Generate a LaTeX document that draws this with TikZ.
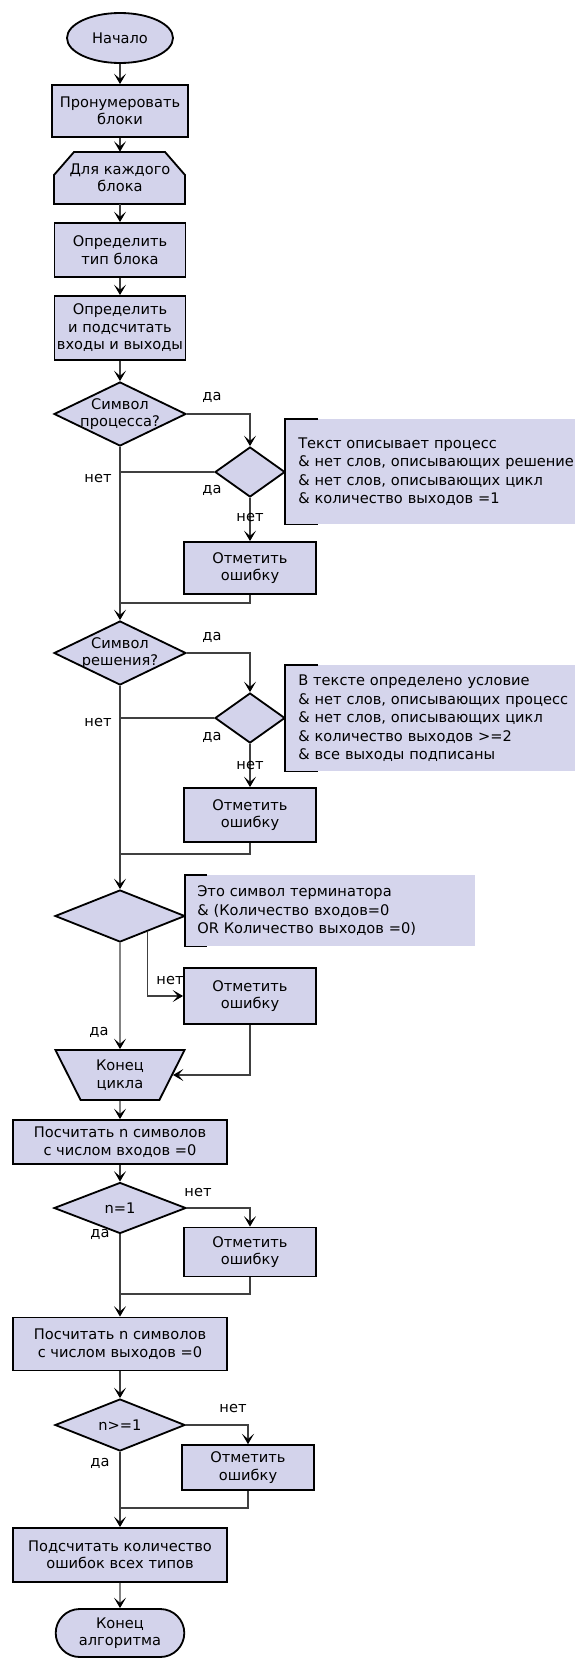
\documentclass[tikz,border=0pt]{standalone}
\usepackage{fontspec}
\setmainfont{DejaVu Sans}
\usetikzlibrary{arrows.meta,positioning,calc,shapes.geometric,shapes.misc}
\definecolor{blockfill}{RGB}{211,211,235}
\definecolor{notefill}{RGB}{213,213,236}

\begin{document}
\begin{tikzpicture}[
  font=\fontsize{10.4}{12.4}\selectfont, >={Stealth[length=2.6mm,width=3mm,inset=1.3mm,black]},
  block/.style={draw, line width=1.3pt, fill=blockfill, align=center, inner sep=0.5pt},
  proc/.style={block, minimum width=3.275cm, minimum height=1.35cm},
  wide/.style={block, minimum width=5.35cm},
  errbox/.style={block, minimum width=3.3cm, minimum height=1.3cm},
  term/.style={block, rounded rectangle, minimum width=3.25cm, minimum height=1.2cm},
  loopbegin/.style={align=center, minimum width=3.275cm, minimum height=1.3cm},
  loopend/.style={block, trapezium, shape border rotate=180, trapezium left angle=63.4, trapezium right angle=63.4,
    trapezium stretches=true, minimum width=3.25cm, minimum height=1.25cm},
  decision/.style={diamond, draw, line width=1.3pt, fill=blockfill, inner sep=0pt, minimum width=3.3cm, minimum height=1.6cm},
  check/.style={decision, minimum width=1.75cm, minimum height=1.25cm},
  note/.style={fill=notefill, align=left, anchor=north west, inner xsep=0.325cm, text width=6.9cm,
    font=\fontsize{10.4}{13.2}\selectfont},
  bracket/.style={line width=1.3pt},
  link/.style={draw=black!75, line width=0.8pt},
  flow/.style={link, ->},
  lbl/.style={inner sep=1pt},
]
\useasboundingbox (0,0) rectangle (14.375,-41.45);
% preparation
\node[block, ellipse, minimum width=2.65cm, minimum height=1.25cm] (start) at (3.0,-0.95) {Начало};
\node[block, minimum width=3.4cm, minimum height=1.3cm] (num) at (3.0,-2.775) {Пронумеровать\\блоки};
% loop start: cut corners drawn by hand, text node on top
\draw[line width=1.3pt, fill=blockfill] (1.35,-5.1) -- (1.35,-4.375) -- (1.85,-3.8) -- (4.125,-3.8)
  -- (4.625,-4.375) -- (4.625,-5.1) -- cycle;
\node[loopbegin] (loop) at (3.0,-4.45) {Для каждого\\блока};
\node[proc] (type) at (3.0,-6.25) {Определить\\тип блока};
\node[proc, minimum height=1.6cm] (count) at (3.0,-8.2) {Определить\\и подсчитать\\входы и выходы};
\draw[flow] (start) -- (num);
\draw[flow] (num) -- (loop);
\draw[flow] (loop) -- (type);
\draw[flow] (type) -- (count);

% process symbol
\node[decision, label={[align=center]center:Символ\\процесса?}] (dec1) at (3.0,-10.35) {};
\node[check] (chk1) at (6.25,-11.8) {};
\node[note, minimum height=2.625cm] (note1) at (7.125,-10.475)
  {Текст описывает процесс\\\& нет слов, описывающих решение\\\& нет слов, описывающих цикл\\\& количество выходов =1};
\draw[bracket] ([xshift=0.825cm]note1.north west) -- (note1.north west) -- (note1.south west) -- ++(0.825,0);
\node[errbox] (err1) at (6.25,-14.2) {Отметить\\ошибку};
\coordinate (j1) at (3.0,-15.075);
\draw[flow] (count) -- (dec1.north);
\draw[flow] (dec1.east) -| (chk1.north);
\draw[link] (chk1.west) -- (chk1.west -| dec1.south);
\draw[flow] (chk1.south) -- (err1.north);
\draw[link] (err1.south) |- (j1);
\node[lbl] at (5.3,-9.925) {да};
\node[lbl] at (2.45,-11.975) {нет};
\node[lbl] at (5.3,-12.25) {да};
\node[lbl] at (6.25,-12.95) {нет};

% decision symbol
\node[decision, label={[align=center]center:Символ\\решения?}] (dec2) at (3.0,-16.325) {};
\draw[flow] (dec1.south) -- (dec2.north);
\node[check] (chk2) at (6.25,-17.95) {};
\node[note, minimum height=2.65cm] (note2) at (7.125,-16.625)
  {В тексте определено условие\\\& нет слов, описывающих процесс\\\& нет слов, описывающих цикл\\\& количество выходов >=2\\\& все выходы подписаны};
\draw[bracket] ([xshift=0.825cm]note2.north west) -- (note2.north west) -- (note2.south west) -- ++(0.825,0);
\node[errbox, minimum height=1.35cm] (err2) at (6.25,-20.375) {Отметить\\ошибку};
\coordinate (j2) at (3.0,-21.35);
\draw[flow] (dec2.east) -| (chk2.north);
\draw[link] (chk2.west) -- (chk2.west -| dec2.south);
\draw[flow] (chk2.south) -- (err2.north);
\draw[link] (err2.south) |- (j2);
\node[lbl] at (5.3,-15.925) {да};
\node[lbl] at (2.45,-18.05) {нет};
\node[lbl] at (5.3,-18.425) {да};
\node[lbl] at (6.25,-19.125) {нет};

% terminator symbol
\node[decision, minimum width=3.25cm, minimum height=1.3cm] (dec3) at (3.0,-22.9) {};
\draw[flow] (dec2.south) -- (dec3.north);
\node[note, text width=6.65cm, inner xsep=0.3cm, minimum height=1.775cm] (note3) at (4.625,-21.875)
  {Это символ терминатора\\\& (Количество входов=0\\OR Количество выходов =0)};
\draw[bracket] ([xshift=0.55cm]note3.north west) -- (note3.north west) -- (note3.south west) -- ++(0.55,0);
\node[errbox, minimum height=1.4cm] (err3) at (6.25,-24.9) {Отметить\\ошибку};
\node[loopend] (endloop) at (3.0,-26.875) {Конец\\цикла};
\draw[flow] ($(dec3.east)!0.58!(dec3.south)$) |- (err3.west);
\draw[flow] (err3.south) |- (endloop.east);
\draw[flow] (dec3.south) -- (endloop.north);
\node[lbl] at (4.25,-24.5) {нет};
\node[lbl] at (2.475,-25.8) {да};

% inputs count
\node[wide, minimum height=1.1cm] (sum1) at (3.0,-28.55) {Посчитать n символов\\с числом входов =0};
\node[decision, minimum height=1.275cm, label={center:{n=1}}] (dec4) at (3.0,-30.2) {};
\node[errbox, minimum height=1.225cm] (err4) at (6.25,-31.3) {Отметить\\ошибку};
\coordinate (j4) at (3.0,-32.35);
\draw[flow] (endloop.south) -- (sum1.north);
\draw[flow] (sum1) -- (dec4);
\draw[flow] (dec4.east) -| (err4.north);
\draw[link] (err4.south) |- (j4);
\node[lbl] at (4.95,-29.8) {нет};
\node[lbl] at (2.5,-30.85) {да};

% outputs count
\node[wide, minimum height=1.325cm] (sum2) at (3.0,-33.6) {Посчитать n символов\\с числом выходов =0};
\draw[flow] (dec4.south) -- (sum2.north);
\node[decision, minimum width=3.25cm, minimum height=1.3cm, label={center:{n>=1}}] (dec5) at (3.0,-35.625) {};
\node[errbox, minimum height=1.125cm] (err5) at (6.2,-36.69) {Отметить\\ошибку};
\coordinate (j5) at (3.0,-37.7);
\draw[flow] (sum2) -- (dec5);
\draw[flow] (dec5.east) -| (err5.north);
\draw[link] (err5.south) |- (j5);
\node[lbl] at (5.825,-35.2) {нет};
\node[lbl] at (2.5,-36.575) {да};

% result
\node[wide, minimum height=1.35cm] (sum3) at (3.0,-38.875) {Подсчитать количество\\ошибок всех типов};
\node[term] (stop) at (3.0,-40.825) {Конец\\алгоритма};
\draw[flow] (dec5.south) -- (sum3.north);
\draw[flow] (sum3) -- (stop);
\end{tikzpicture}
\end{document}
